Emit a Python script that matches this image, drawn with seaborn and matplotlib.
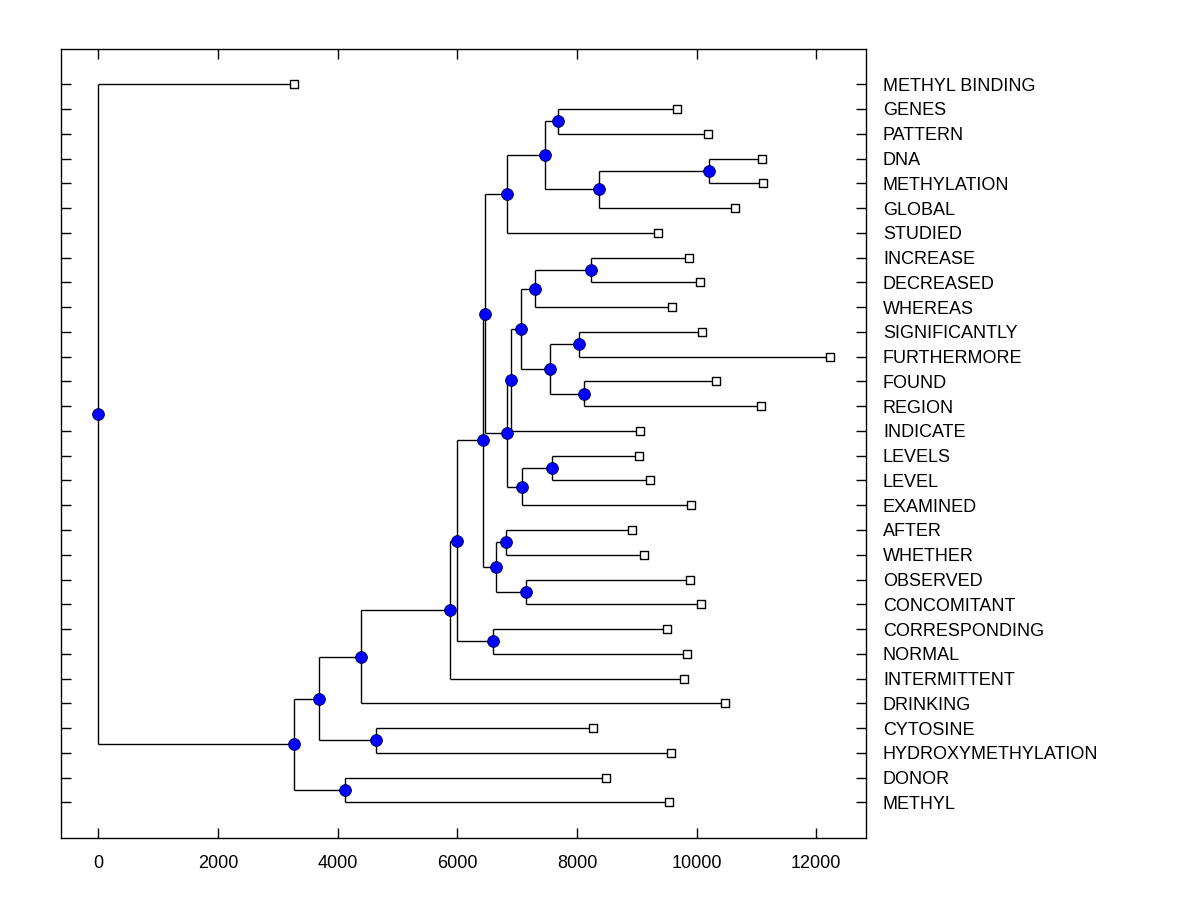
import numpy as np
import pandas as pd
import matplotlib
matplotlib.use("Agg")
import matplotlib.pyplot as plt
import seaborn as sns

# ---- data ----
labels = ["METHYL BINDING", "GENES", "PATTERN", "DNA", "METHYLATION", "GLOBAL",
          "STUDIED", "INCREASE", "DECREASED", "WHEREAS", "SIGNIFICANTLY",
          "FURTHERMORE", "FOUND", "REGION", "INDICATE", "LEVELS", "LEVEL",
          "EXAMINED", "AFTER", "WHETHER", "OBSERVED", "CONCOMITANT",
          "CORRESPONDING", "NORMAL", "INTERMITTENT", "DRINKING", "CYTOSINE",
          "HYDROXYMETHYLATION", "DONOR", "METHYL"]

leaf_heights = [3276, 9677, 10195, 11097, 11114, 10646, 9359, 9877, 10061, 9593,
                10095, 12234, 10329, 11081, 9058, 9042, 9226, 9911, 8925, 9125,
                9894, 10078, 9510, 9844, 9794, 10479, 8273, 9577, 8490, 9543]

# merges: child a, child b (leaf index, or 30+ for earlier merges), height
merge_a = [1, 3, 31, 30, 33, 7, 35, 10, 12, 37, 36, 40, 15, 42, 41, 34, 18, 20,
           46, 45, 22, 49, 51, 52, 26, 53, 28, 55, 0]
merge_b = [2, 4, 5, 32, 6, 8, 9, 11, 13, 38, 39, 14, 16, 17, 43, 44, 19, 21,
           47, 48, 23, 50, 24, 25, 27, 54, 29, 56, 57]
merge_h = [7688, 10212, 8373, 7471, 6836, 8240, 7304, 8039, 8118, 7554, 7070,
           6902, 7588, 7086, 6836, 6468, 6814, 7153, 6647, 6435, 6602, 6000,
           5883, 4396, 4646, 3694, 4128, 3276, 0]

xticks = [0, 2000, 4000, 6000, 8000, 10000, 12000]

# ---- layout of tree ----
n = len(labels)
pos_x = list(leaf_heights)
pos_y = list(range(n))
segs = []
for a, b, h in zip(merge_a, merge_b, merge_h):
    ya, yb = pos_y[a], pos_y[b]
    segs.append(([h, h], [ya, yb]))
    segs.append(([h, pos_x[a]], [ya, ya]))
    segs.append(([h, pos_x[b]], [yb, yb]))
    pos_x.append(h)
    pos_y.append((ya + yb) / 2)

leaves = pd.DataFrame({"x": pos_x[:n], "y": pos_y[:n]})
nodes = pd.DataFrame({"x": pos_x[n:], "y": pos_y[n:]})

sns.set_style("white")
plt.rcParams["font.family"] = ["Liberation Sans", "DejaVu Sans"]

fig = plt.figure(figsize=(12, 9), dpi=100)
ax = fig.add_axes([61.3 / 1200, 1 - 838.3 / 900, (866.3 - 61.3) / 1200, (838.3 - 49.3) / 900])

for xs, ys in segs:
    ax.plot(xs, ys, color="black", lw=1.0, zorder=1, solid_capstyle="butt")

sns.scatterplot(data=leaves, x="x", y="y", marker="s", color="white",
                edgecolor="black", linewidth=1.0, s=38, zorder=3, ax=ax, legend=False)
sns.scatterplot(data=nodes, x="x", y="y", marker="o", color="#0000ff",
                edgecolor="#000040", linewidth=0.6, s=72, zorder=4, ax=ax, legend=False)

ax.set_xlim(-618, 12836)
ax.set_ylim(30.45, -1.41)
ax.set_xticks(xticks)
ax.set_xticklabels([str(t) for t in xticks], fontsize=13)
ax.set_yticks(range(n))
ax.set_yticklabels(labels, fontsize=13)
ax.set_xlabel("")
ax.set_ylabel("")
ax.tick_params(axis="x", direction="in", length=7, width=1.0, top=True, bottom=True,
               pad=12, colors="black")
ax.tick_params(axis="y", direction="in", length=7, width=1.0, left=True, right=True,
               labelleft=False, labelright=True, pad=12, colors="black")
for s in ax.spines.values():
    s.set_visible(True)
    s.set_color("black")
    s.set_linewidth(1.0)
ax.grid(False)

fig.savefig("out.png", dpi=100, facecolor="white")
